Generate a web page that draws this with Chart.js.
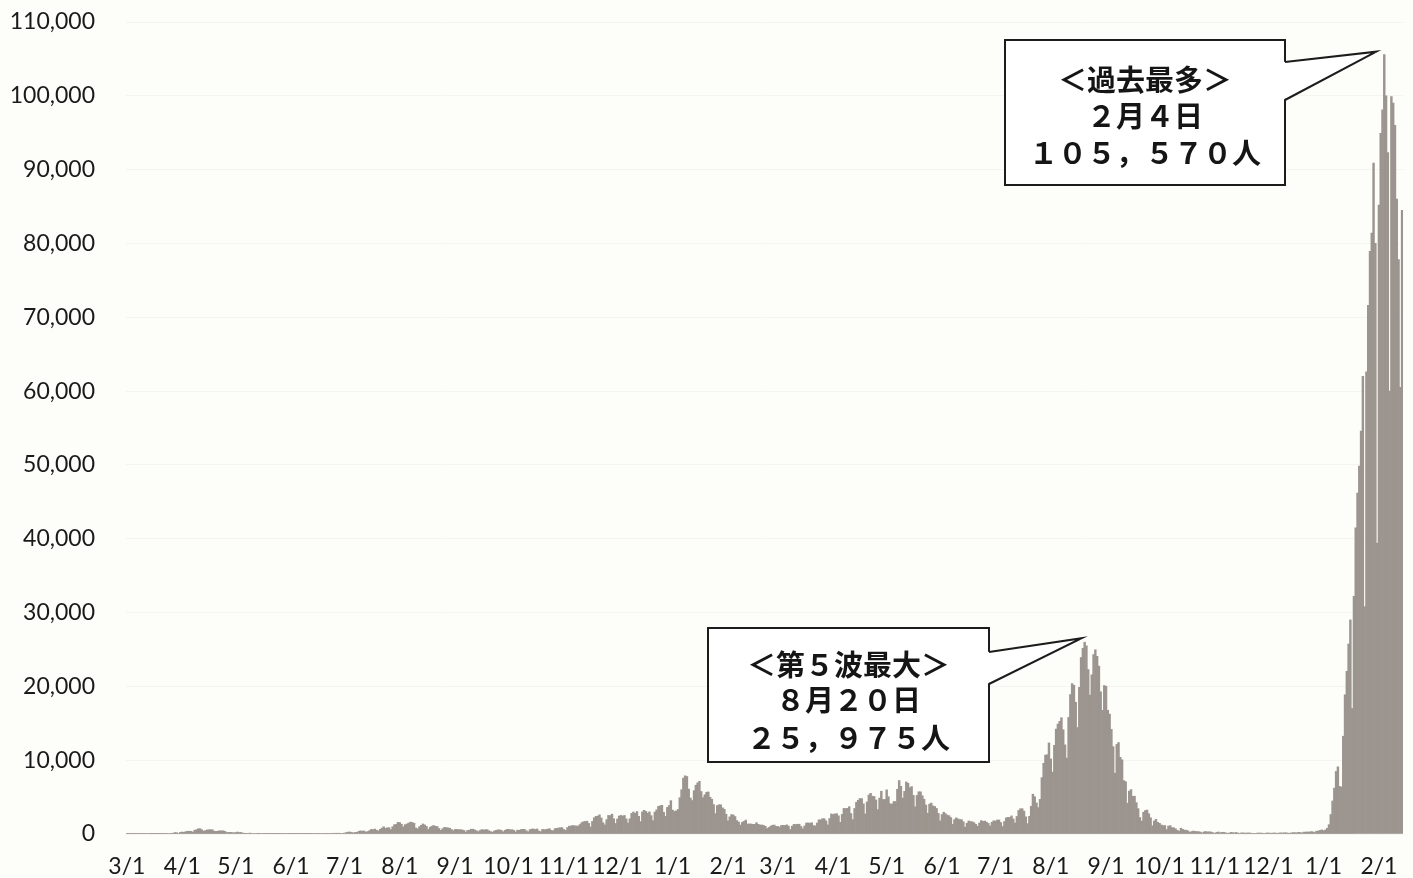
<!DOCTYPE html>
<html>
<head>
<meta charset="utf-8">
<script src="https://cdn.jsdelivr.net/npm/chart.js@4.4.1/dist/chart.umd.min.js"></script>
<style>
html,body{margin:0;padding:0;background:#fdfdf9;overflow:hidden;}
#box{position:relative;width:1413px;height:878px;}
</style>
</head>
<body>
<div id="box"><canvas id="myChart"></canvas></div>
<script>
//日別の新規感染者数（月ごと）
var mar2020=[9,14,15,33,36,59,47,33,26,54,52,56,62,41,15,38,44,39,39,35,43,26,39,65,71,96,112,200,173,86,223];
var apr2020=[266,225,318,368,378,352,252,511,576,708,720,568,392,457,546,576,584,569,374,351,378,440,423,434,350,201,216,227,202,160];
var may2020=[203,264,200,216,121,102,89,82,123,84,69,57,50,99,65,52,32,32,29,39,26,19,39,27,21,37,38,58,81,47,39];
var jun2020=[49,34,46,40,39,40,34,38,38,36,42,47,51,55,72,42,48,68,59,90,56,40,63,97,85,106,100,110,58,89];
var jul2020=[126,193,252,274,216,150,208,225,354,426,384,408,262,331,448,623,588,660,510,418,631,795,981,767,839,860,597,985,1261,1301,1578];
var aug2020=[1536,1328,964,1257,1357,1484,1605,1565,1442,812,702,991,1176,1360,1229,1023,624,918,1060,1152,1036,1016,741,498,710,885,872,830,779,608,445];
var sep2020=[611,621,584,596,546,483,269,489,508,650,644,552,442,319,465,596,555,580,590,444,323,251,411,496,557,556,484,294,496,611];
var oct2020=[640,564,594,482,276,520,500,604,634,620,437,305,586,664,677,619,676,405,322,635,592,606,667,712,490,436,714,775,801,864,856];
var nov2020=[611,489,872,1056,1080,1159,1108,1100,1066,1275,1542,1660,1704,1736,1437,950,1700,2201,2386,2424,2596,2168,1520,1228,1945,2509,2504,2684,2060,1426];
var dec2020=[2029,2433,2518,2433,2509,2049,1497,2064,2795,2973,2790,3041,2398,1680,2997,3213,3057,2827,2999,2494,1813,2968,3271,3740,3824,3881,2947,2395,3596,3852,4520];
var jan2021=[3239,3059,3129,3317,4913,6001,7570,7882,7790,6094,4875,4536,5875,6605,6931,7133,5759,4926,5320,5654,5696,4978,4713,3986,2764,3852,3964,3949,3538,3343,2673];
var feb2021=[1792,2322,2631,2576,2369,1818,1623,1218,1569,1719,1881,1356,1358,1359,1305,1307,1534,1310,1217,1224,1164,1043,736,891,1073,1185,1211,1026];
var mar2021=[1024,937,1158,1175,1149,1235,1065,603,1052,1306,1281,1324,1318,1012,711,1089,1493,1496,1464,1523,1127,1092,1492,1918,1920,2070,2076,1785,1236,2103,2718];
var apr2021=[2640,2722,2749,2464,1583,2650,3463,3447,3478,3697,2768,1942,3456,4300,4570,4801,4793,4082,2717,4339,5280,5509,5120,5076,4606,3312,4859,5793,4677,4687];
var may2021=[5982,5050,4102,4045,4387,4399,6056,7244,6463,4869,5772,7047,6872,6271,6419,5234,3679,5227,5718,5710,5183,4703,3925,2817,4047,4187,3808,3722,3458,2781,1783];
var jun2021=[2636,2950,2754,2560,2480,2224,1309,1956,2182,2052,1944,1949,1664,932,1455,1764,1691,1652,1530,1306,1046,1484,1819,1709,1753,1606,1433,1095,1586,1788];
var jul2021=[1748,1886,1896,1552,1016,1686,2182,2258,2237,2450,2040,1502,2377,3194,3420,3424,3100,2328,1399,2398,3759,5391,5052,4213,3574,4691,7630,9573,10687,10743,12341];
var aug2021=[10169,8383,12014,14213,14888,15263,15750,14121,12069,10289,15793,18890,20366,20151,17845,14421,19863,23917,25146,25975,25492,22275,18813,21570,24312,24956,24072,22748,19262,16756,20116];
var sep2021=[20016,16768,16241,14172,11837,8233,12136,12392,10394,10054,7227,7087,4176,5811,6015,5101,5119,4245,3434,2228,1753,2954,3176,3241,2739,2198,1122,1767,1982,1578];
var oct2021=[1445,1227,1122,1147,604,1072,1128,866,839,701,506,373,784,619,531,509,429,232,338,394,345,326,311,261,154,291,339,273,303,259,183];
var nov2021=[86,229,270,162,218,234,161,106,112,222,193,155,210,132,75,155,146,120,131,147,127,81,49,77,131,126,126,97,86,136];
var dec2021=[134,121,101,139,131,91,131,154,136,164,168,119,98,159,188,178,164,228,193,145,255,252,282,260,323,291,201,379,403,491,556];
var jan2022=[456,553,782,1265,2638,4475,6214,8480,9100,6438,6377,13244,18860,22045,25742,29000,17000,32197,41485,46199,49854,54576,62000,30800,62612,71633,78930,81400,90900,80000,39400];
var feb2022=[85193,94931,98100,105570,100000,92300,60000,99900,99000,96000,86000,77800,60500,84500];

//月の並び（月番号, データ）
var monthList=[[3,mar2020],[4,apr2020],[5,may2020],[6,jun2020],[7,jul2020],[8,aug2020],[9,sep2020],[10,oct2020],[11,nov2020],[12,dec2020],
	[1,jan2021],[2,feb2021],[3,mar2021],[4,apr2021],[5,may2021],[6,jun2021],[7,jul2021],[8,aug2021],[9,sep2021],[10,oct2021],[11,nov2021],[12,dec2021],
	[1,jan2022],[2,feb2022]];

//y軸の目盛
var yTicks=[0,10000,20000,30000,40000,50000,60000,70000,80000,90000,100000,110000];

//吹き出し
var notes=[
	{value:105570, lines:['＜過去最多＞','２月４日','１０５，５７０人'], ly:[40,76,113], x:1005, y:40, w:280, h:145, p1:62, p2:100, dx:-8, dy:-3},
	{value:25975, lines:['＜第５波最大＞','８月２０日','２５，９７５人'], ly:[37,72,110], x:708, y:628, w:281, h:134, p1:652, p2:684, dx:-3, dy:-4}
];

var labels=[];
var values=[];
for(var i=0;i<monthList.length;i++){
	var m=monthList[i][0];
	var arr=monthList[i][1];
	for(var d=0;d<arr.length;d++){
		labels.push(m+'/'+(d+1));
		values.push(arr[d]);
	}
}

var tickFont={family:'Lato, "Open Sans", sans-serif', size:23};

//吹き出しを描く
var calloutPlugin={
	id:'callout',
	afterDraw:function(chart){
		var ctx=chart.ctx;
		var xs=chart.scales.x, ys=chart.scales.y;
		ctx.save();
		for(var i=0;i<notes.length;i++){
			var n=notes[i];
			var idx=values.indexOf(n.value);
			var tx=xs.getPixelForValue(idx)+n.dx;
			var ty=ys.getPixelForValue(n.value)+n.dy;
			var r=n.x+n.w;
			ctx.lineWidth=2;
			ctx.strokeStyle='#1c1c1c';
			ctx.fillStyle='#ffffff';
			ctx.fillRect(n.x,n.y,n.w,n.h);
			ctx.strokeRect(n.x,n.y,n.w,n.h);
			//しっぽ
			ctx.beginPath();
			ctx.moveTo(r-2,n.p1);
			ctx.lineTo(tx,ty);
			ctx.lineTo(r-2,n.p2);
			ctx.closePath();
			ctx.fill();
			ctx.beginPath();
			ctx.moveTo(r,n.p1);
			ctx.lineTo(tx,ty);
			ctx.lineTo(r,n.p2);
			ctx.stroke();
			//文字
			ctx.fillStyle='#151515';
			ctx.font='bold 29px "Noto Sans CJK JP"';
			ctx.textAlign='center';
			ctx.textBaseline='middle';
			var cx=n.x+n.w/2;
			for(var k=0;k<n.lines.length;k++){
				ctx.fillText(n.lines[k],cx,n.y+n.ly[k]);
			}
		}
		ctx.restore();
	}
};

var ctx1=document.getElementById('myChart');
var myBarChart=new Chart(ctx1,{
	type:'bar',
	data:{
		labels:labels,
		datasets:[{
			data:values,
			backgroundColor:'#9c958f',
			borderWidth:0,
			barPercentage:1,
			categoryPercentage:1
		}]
	},
	options:{
		responsive:true,
		maintainAspectRatio:false,
		animation:false,
		layout:{padding:{top:22,right:10,left:0,bottom:0}},
		plugins:{legend:{display:false},tooltip:{enabled:false}},
		scales:{
			x:{
				grid:{display:false,drawTicks:false},
				border:{display:false},
				afterFit:function(s){s.height=44;s.paddingLeft=0;s.paddingRight=0;},
				ticks:{
					autoSkip:false,
					maxRotation:0,
					padding:19,
					color:'#1a1a1a',
					font:tickFont,
					callback:function(v){
						var lab=labels[v];
						return lab.split('/')[1]==='1' ? lab : '';
					}
				}
			},
			y:{
				min:0,
				max:110000,
				afterFit:function(s){s.width=126;s.paddingTop=0;s.paddingBottom=0;},
				afterBuildTicks:function(s){
					s.ticks=yTicks.map(function(v){return {value:v};});
				},
				grid:{color:'rgba(0,0,0,0.035)',drawTicks:false},
				border:{display:false},
				ticks:{
					padding:31,
					color:'#1a1a1a',
					font:tickFont,
					callback:function(v){return v.toLocaleString('en-US');}
				}
			}
		}
	},
	plugins:[calloutPlugin]
});
</script>
</body>
</html>
